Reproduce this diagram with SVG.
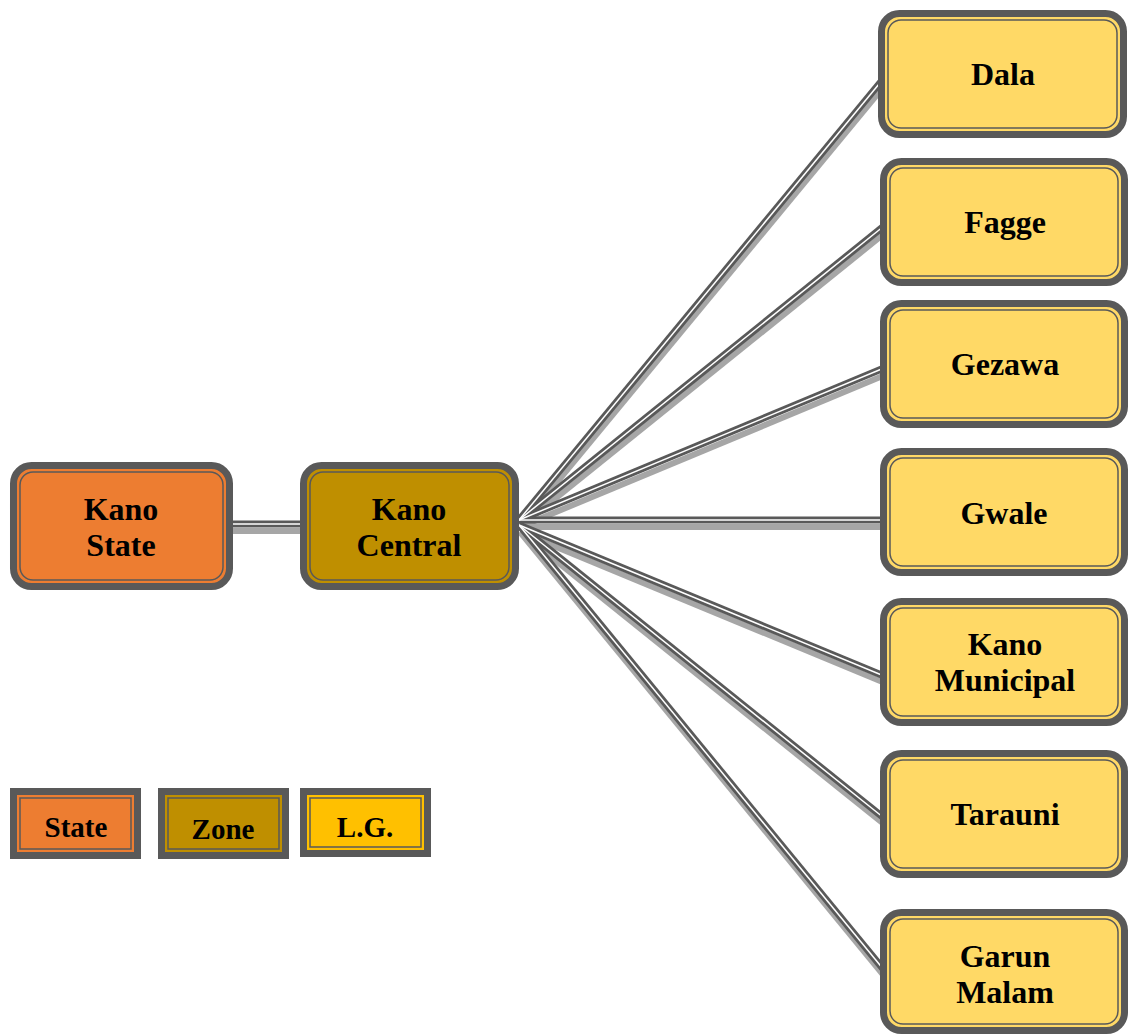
<svg xmlns="http://www.w3.org/2000/svg" width="1130" height="1034" viewBox="0 0 1130 1034">
<style>
.outer{stroke:#595959;stroke-width:7}
.inner{fill:none;stroke:#595959;stroke-width:1.5}
.st{fill:#ED7D31}
.zn{fill:#BF8F00}
.lg{fill:#FFD966}
.lgl{fill:#FFC000}
.t{font-family:"Liberation Serif","Times New Roman",serif;font-weight:bold;font-size:32px;fill:#000;text-anchor:middle}
.tl{font-family:"Liberation Serif","Times New Roman",serif;font-weight:bold;font-size:29px;fill:#000;text-anchor:middle}
.sh{stroke:#a6a6a6;stroke-width:6;fill:none}
.dk{stroke:#595959;stroke-width:7;fill:none}
.wh{stroke:#ffffff;stroke-width:1.5;fill:none}
</style>
<rect width="1130" height="1034" fill="#ffffff"/>
<g id="connectors">
  <g transform="translate(1,7)">
    <line class="sh" x1="232" y1="524" x2="302" y2="524"/>
    <line class="sh" x1="519" y1="520" x2="884" y2="78"/>
    <line class="sh" x1="519" y1="520" x2="884" y2="226"/>
    <line class="sh" x1="519" y1="520" x2="884" y2="368"/>
    <line class="sh" x1="519" y1="520" x2="884" y2="520"/>
    <line class="sh" x1="519" y1="525" x2="884" y2="676"/>
    <line class="sh" x1="519" y1="525" x2="884" y2="818"/>
    <line class="sh" x1="519" y1="525" x2="884" y2="970"/>
  </g>
  <line class="dk" x1="232" y1="524" x2="302" y2="524"/>
  <line class="dk" x1="519" y1="520" x2="884" y2="78"/>
  <line class="dk" x1="519" y1="520" x2="884" y2="226"/>
  <line class="dk" x1="519" y1="520" x2="884" y2="368"/>
  <line class="dk" x1="519" y1="520" x2="884" y2="520"/>
  <line class="dk" x1="519" y1="525" x2="884" y2="676"/>
  <line class="dk" x1="519" y1="525" x2="884" y2="818"/>
  <line class="dk" x1="519" y1="525" x2="884" y2="970"/>
  <line class="wh" x1="232" y1="524" x2="302" y2="524"/>
  <line class="wh" x1="519" y1="520" x2="884" y2="78"/>
  <line class="wh" x1="519" y1="520" x2="884" y2="226"/>
  <line class="wh" x1="519" y1="520" x2="884" y2="368"/>
  <line class="wh" x1="519" y1="520" x2="884" y2="520"/>
  <line class="wh" x1="519" y1="525" x2="884" y2="676"/>
  <line class="wh" x1="519" y1="525" x2="884" y2="818"/>
  <line class="wh" x1="519" y1="525" x2="884" y2="970"/>
</g>
<g id="kano-state">
  <rect class="outer st" x="13.5" y="465.5" width="216" height="121" rx="18"/>
  <rect class="inner" x="20" y="472" width="203" height="108" rx="13"/>
  <text class="t" x="121" y="520">Kano</text>
  <text class="t" x="121" y="556">State</text>
</g>
<g id="kano-central">
  <rect class="outer zn" x="303.5" y="465.5" width="212" height="121" rx="18"/>
  <rect class="inner" x="310" y="472" width="199" height="108" rx="13"/>
  <text class="t" x="409" y="520">Kano</text>
  <text class="t" x="409" y="556">Central</text>
</g>
<g id="dala">
  <rect class="outer lg" x="881.5" y="13.5" width="242" height="121" rx="18"/>
  <rect class="inner" x="888" y="20" width="229" height="108" rx="13"/>
  <text class="t" x="1003" y="85">Dala</text>
</g>
<g id="fagge">
  <rect class="outer lg" x="883.5" y="161.5" width="241" height="121" rx="18"/>
  <rect class="inner" x="890" y="168" width="228" height="108" rx="13"/>
  <text class="t" x="1005" y="233">Fagge</text>
</g>
<g id="gezawa">
  <rect class="outer lg" x="883.5" y="303.5" width="241" height="121" rx="18"/>
  <rect class="inner" x="890" y="310" width="228" height="108" rx="13"/>
  <text class="t" x="1005" y="375">Gezawa</text>
</g>
<g id="gwale">
  <rect class="outer lg" x="883.5" y="451.5" width="241" height="121" rx="18"/>
  <rect class="inner" x="890" y="458" width="228" height="108" rx="13"/>
  <text class="t" x="1004" y="524">Gwale</text>
</g>
<g id="kano-municipal">
  <rect class="outer lg" x="883.5" y="601.5" width="241" height="121" rx="18"/>
  <rect class="inner" x="890" y="608" width="228" height="108" rx="13"/>
  <text class="t" x="1005" y="655">Kano</text>
  <text class="t" x="1005" y="691">Municipal</text>
</g>
<g id="tarauni">
  <rect class="outer lg" x="883.5" y="753.5" width="241" height="121" rx="18"/>
  <rect class="inner" x="890" y="760" width="228" height="108" rx="13"/>
  <text class="t" x="1005" y="825">Tarauni</text>
</g>
<g id="garun-malam">
  <rect class="outer lg" x="883.5" y="912.5" width="241" height="118" rx="18"/>
  <rect class="inner" x="890" y="919" width="228" height="105" rx="13"/>
  <text class="t" x="1005" y="967">Garun</text>
  <text class="t" x="1005" y="1003">Malam</text>
</g>
<g id="legend-state">
  <rect class="outer st" x="13.5" y="791.5" width="124" height="64"/>
  <rect class="inner" x="20" y="798" width="111" height="51"/>
  <text class="tl" x="76" y="837">State</text>
</g>
<g id="legend-zone">
  <rect class="outer zn" x="161.5" y="791.5" width="124" height="64"/>
  <rect class="inner" x="168" y="798" width="111" height="51"/>
  <text class="tl" x="223" y="839">Zone</text>
</g>
<g id="legend-lg">
  <rect class="outer lgl" x="303.5" y="791.5" width="124" height="62"/>
  <rect class="inner" x="310" y="798" width="111" height="49"/>
  <text class="tl" x="365" y="837">L.G.</text>
</g>
</svg>
